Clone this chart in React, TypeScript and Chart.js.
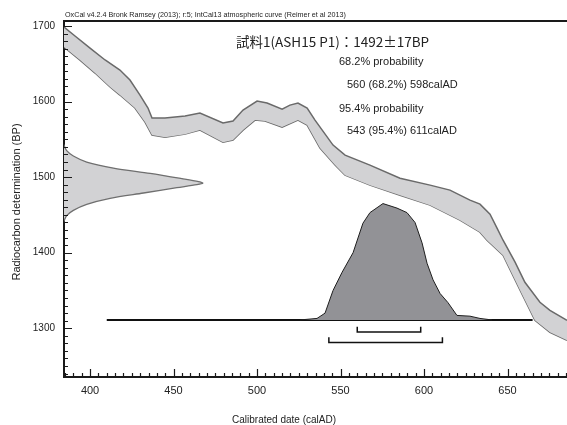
import React, { useEffect, useRef } from 'react';
import { Chart, registerables } from 'chart.js';

Chart.register(...registerables);

// ---- axis ranges & tick labels ----
const xMin = 384.4;
const xMax = 685.6;
const yMin = 1235.5;
const yMax = 1706.6;
const xTickLabels = [400, 450, 500, 550, 600, 650];
const yTickLabels = [1300, 1400, 1500, 1600, 1700];

// ---- texts ----
const headerText = 'OxCal v4.2.4 Bronk Ramsey (2013); r:5; IntCal13 atmospheric curve (Reimer et al 2013)';
const titleText = '試料1(ASH15 P1)：1492±17BP';
const probTexts = ['68.2% probability', '560 (68.2%) 598calAD', '95.4% probability', '543 (95.4%) 611calAD'];
const xTitle = 'Calibrated date (calAD)';
const yTitle = 'Radiocarbon determination (BP)';

// ---- calibration curve band (IntCal13) ----
const upperAD = [384.4, 391.0, 400.0, 409.0, 417.9, 423.9, 429.9, 434.7, 437.1, 444.9, 456.9, 465.8, 479.6, 485.6, 491.6, 500.0, 506.0, 515.0, 519.7, 524.5, 530.0, 534.7, 545.5, 552.7, 567.6, 585.6, 603.6, 615.5, 627.5, 633.5, 639.5, 643.7, 647.3, 654.5, 660.4, 669.4, 675.4, 685.6];
const upperBP = [1698.7, 1686.7, 1670.8, 1655.0, 1641.7, 1628.5, 1608.6, 1591.4, 1578.2, 1578.2, 1580.8, 1584.8, 1571.6, 1574.2, 1588.7, 1600.6, 1598.0, 1590.0, 1595.3, 1598.0, 1591.4, 1575.5, 1542.4, 1529.1, 1515.9, 1498.6, 1489.4, 1482.8, 1469.5, 1464.2, 1451.0, 1432.4, 1416.5, 1387.4, 1360.9, 1334.4, 1323.8, 1310.6];
const lowerAD = [384.4, 394.0, 403.0, 412.0, 417.9, 426.9, 432.9, 437.1, 444.9, 456.9, 465.8, 479.6, 485.6, 491.6, 498.8, 504.8, 515.0, 524.5, 530.0, 537.7, 546.7, 552.7, 567.6, 585.6, 603.6, 621.5, 633.5, 637.7, 647.3, 657.5, 666.4, 675.4, 685.6];
const lowerBP = [1672.2, 1654.9, 1637.7, 1619.2, 1608.6, 1591.4, 1572.8, 1555.6, 1552.9, 1556.9, 1562.2, 1546.3, 1549.0, 1562.2, 1575.5, 1574.2, 1566.2, 1575.5, 1568.9, 1538.4, 1515.9, 1502.6, 1489.4, 1476.1, 1462.9, 1443.0, 1427.1, 1416.5, 1396.7, 1350.3, 1310.6, 1294.7, 1284.1];

// ---- radiocarbon measurement 1492±17 BP (drawn against the y axis) ----
const dateBP = [1544, 1535, 1528, 1520, 1512, 1505, 1498, 1494, 1492, 1490, 1486, 1479, 1472, 1464, 1456, 1449, 1440];
const dateAD = [384.0, 386.0, 390.0, 398.0, 414.0, 436.0, 455.0, 465.0, 467.5, 464.0, 452.0, 432.0, 412.0, 398.0, 390.0, 386.0, 384.0];

// ---- calibrated probability distribution ----
const calAD = [525.7, 535.9, 540.7, 545.5, 550.9, 557.5, 563.4, 567.6, 575.4, 583.8, 589.8, 594.6, 598.8, 601.8, 605.4, 609.6, 614.3, 619.7, 627.5, 633.5, 640.7];
const calBP = [1311, 1313, 1320, 1350, 1374, 1400, 1439, 1453, 1465, 1459, 1453, 1440, 1413, 1386, 1364, 1346, 1334, 1317, 1316, 1313, 1311];
const baselineBP = 1311;
const baselineAD = [410, 665];

// ---- calibrated ranges ----
const range68 = [560, 598];
const range95 = [543, 611];

const pts = (xs: number[], ys: number[]) => xs.map((x, i) => ({ x, y: ys[i] }));
const bracket = (r: number[], level: number, h: number) => [
  { x: r[0], y: level + h },
  { x: r[0], y: level },
  { x: r[1], y: level },
  { x: r[1], y: level + h },
];

const FONT = '"Liberation Sans", Arial, Helvetica, sans-serif';

const decorPlugin = {
  id: 'decor',
  afterDraw(chart: any) {
    const { ctx, chartArea, scales } = chart;
    const xs = scales.x;
    const ys = scales.y;
    ctx.save();
    // top frame line
    ctx.strokeStyle = '#1a1a1a';
    ctx.lineWidth = 2;
    ctx.beginPath();
    ctx.moveTo(chartArea.left - 1, chartArea.top);
    ctx.lineTo(chartArea.right, chartArea.top);
    ctx.stroke();
    // inward ticks
    ctx.lineWidth = 1.2;
    ctx.beginPath();
    for (let v = 1240; v <= 1700; v += 10) {
      const y = Math.round(ys.getPixelForValue(v)) + 0.5;
      const len = v % 100 === 0 ? 8 : 4;
      ctx.moveTo(chartArea.left, y);
      ctx.lineTo(chartArea.left + len, y);
    }
    for (let v = 385; v <= 685; v += 5) {
      const x = Math.round(xs.getPixelForValue(v)) + 0.5;
      const len = v % 50 === 0 ? 8 : 4;
      ctx.moveTo(x, chartArea.bottom);
      ctx.lineTo(x, chartArea.bottom - len);
    }
    ctx.stroke();
    // texts
    ctx.fillStyle = '#222';
    ctx.textBaseline = 'middle';
    ctx.textAlign = 'left';
    ctx.font = '7.2px ' + FONT;
    ctx.fillText(headerText, 65, 15);
    ctx.font = '13.5px "Noto Sans CJK JP", sans-serif';
    ctx.fillText(titleText, 236, 42);
    ctx.font = '11px ' + FONT;
    ctx.fillText(probTexts[0], 339, 62);
    ctx.fillText(probTexts[1], 347, 85);
    ctx.fillText(probTexts[2], 339, 109);
    ctx.fillText(probTexts[3], 347, 131);
    ctx.textAlign = 'center';
    ctx.font = '10px ' + FONT;
    ctx.fillText(xTitle, 284, 420);
    ctx.save();
    ctx.translate(17, 202);
    ctx.rotate(-Math.PI / 2);
    ctx.font = '11px ' + FONT;
    ctx.fillText(yTitle, 0, 0);
    ctx.restore();
    ctx.restore();
  },
};

export default function App() {
  const ref = useRef<HTMLCanvasElement>(null);
  useEffect(() => {
    if (!ref.current) return;
    const lineBase = { pointRadius: 0, pointHoverRadius: 0, tension: 0 };
    const chart = new Chart(ref.current, {
      type: 'line',
      data: {
        datasets: [
          {
            ...lineBase,
            data: pts(upperAD, upperBP),
            borderColor: '#6a6a6a',
            borderWidth: 1.5,
            backgroundColor: '#d2d2d4',
            fill: '+1',
          },
          {
            ...lineBase,
            data: pts(lowerAD, lowerBP),
            borderColor: '#6a6a6a',
            borderWidth: 1.5,
            fill: false,
          },
          {
            ...lineBase,
            data: pts(dateAD, dateBP),
            borderColor: '#6f6f6f',
            borderWidth: 1.3,
            backgroundColor: '#d2d2d4',
            fill: 'shape',
            tension: 0.3,
          },
          {
            ...lineBase,
            data: pts(calAD, calBP),
            borderColor: '#1e1e1e',
            borderWidth: 1,
            backgroundColor: '#929296',
            fill: { value: baselineBP },
          },
          {
            ...lineBase,
            data: pts(baselineAD, [baselineBP, baselineBP]),
            borderColor: '#111',
            borderWidth: 2,
            fill: false,
          },
          {
            ...lineBase,
            data: bracket(range68, 1295, 7),
            borderColor: '#111',
            borderWidth: 1.5,
            fill: false,
          },
          {
            ...lineBase,
            data: bracket(range95, 1281, 7),
            borderColor: '#111',
            borderWidth: 1.5,
            fill: false,
          },
        ],
      },
      options: {
        animation: false,
        responsive: false,
        maintainAspectRatio: false,
        layout: { padding: { left: 0, right: 0, top: 21, bottom: 0 } },
        plugins: { legend: { display: false }, tooltip: { enabled: false } },
        events: [],
        scales: {
          x: {
            type: 'linear',
            min: xMin,
            max: xMax,
            grid: { display: false, drawTicks: false },
            border: { display: true, color: '#1a1a1a', width: 2 },
            ticks: { color: '#222', font: { size: 11, family: FONT }, padding: 7, maxRotation: 0, callback: (v: any) => String(v) },
            afterBuildTicks: (s: any) => {
              s.ticks = xTickLabels.map((v) => ({ value: v }));
            },
            afterFit: (s: any) => {
              s.height = 48;
            },
          },
          y: {
            type: 'linear',
            min: yMin,
            max: yMax,
            grid: { display: false, drawTicks: false },
            border: { display: true, color: '#1a1a1a', width: 2 },
            ticks: { color: '#222', font: { size: 10, family: FONT }, padding: 9, callback: (v: any) => String(v) },
            afterBuildTicks: (s: any) => {
              s.ticks = yTickLabels.map((v) => ({ value: v }));
            },
            afterFit: (s: any) => {
              s.width = 64;
            },
          },
        },
      },
      plugins: [decorPlugin],
    } as any);
    return () => chart.destroy();
  }, []);
  return (
    <div style={{ position: 'absolute', left: 0, top: 0, width: 567, height: 425, background: '#fff' }}>
      <canvas ref={ref} width={567} height={425} style={{ width: 567, height: 425, display: 'block' }} />
    </div>
  );
}
